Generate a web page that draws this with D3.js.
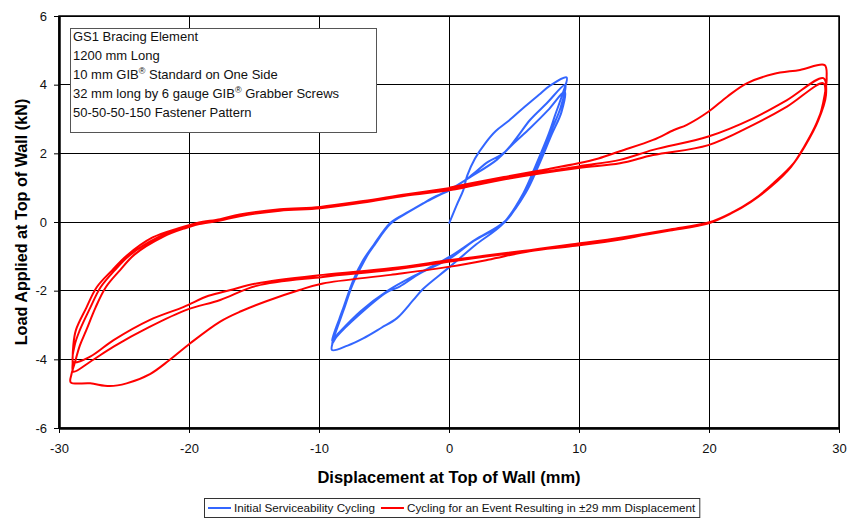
<!DOCTYPE html>
<meta charset="utf-8">
<head>
<style>
  body { margin: 0; background: #fff; }
  text { font-family: "Liberation Sans", Arial, sans-serif; }
</style>
</head>
<body>
<div id="chart"></div>
<script src="https://d3js.org/d3.v7.min.js"></script>
<script>

// axis ticks
var xTicks = [-30, -20, -10, 0, 10, 20, 30];
var yTicks = [-6, -4, -2, 0, 2, 4, 6];

// specimen description (the "®" is drawn as superscript)
var noteLines = [
  "GS1 Bracing Element",
  "1200 mm Long",
  "10 mm GIB® Standard on One Side",
  "32 mm long by 6 gauge GIB® Grabber Screws",
  "50-50-50-150 Fastener Pattern"
];

var seriesNames = ["Initial Serviceability Cycling", "Cycling for an Event Resulting in \u00b129 mm Displacement"];
var seriesColors = ["#3366ff", "#ff0000"];

// [displacement mm, load kN] - serviceability cycles (±9 mm)
var blueLoops = [
  [0, -0.05], [0.6, 0.5], [1.1, 0.93], [1.4, 1.35], [2.0, 1.85], [2.8, 2.3], [3.6, 2.65], [4.6, 2.95], [5.8, 3.35], [6.9, 3.7], [7.8, 3.98], [9.05, 4.21],
  [8.75, 3.75], [8.15, 3.1], [7.7, 2.6], [6.74, 1.71], [5.72, 0.84], [4.18, -0.04], [2.1, -0.65], [0.08, -1.3], [-2.0, -1.95], [-2.74, -2.27], [-4.0, -2.8], [-5.2, -3.08], [-6.6, -3.39], [-7.8, -3.6], [-9.0, -3.73],
  [-8.9, -3.44], [-8.5, -2.9], [-8.1, -2.47], [-7.36, -1.69], [-6.6, -1.11], [-5.8, -0.67], [-4.54, -0.04], [-3.3, 0.25], [-2.0, 0.54], [-1.0, 0.75], [0.08, 0.93], [1.6, 1.32], [3.0, 1.75], [4.18, 2.0], [5.2, 2.45], [6.23, 2.97], [7.5, 3.45], [8.95, 4.0],
  [8.6, 3.35], [7.8, 2.6], [6.8, 1.65], [5.8, 0.85], [4.3, 0.0], [1.9, -0.55], [0.08, -1.06], [-2.2, -1.49], [-3.8, -1.88], [-4.8, -2.05], [-6.85, -2.68], [-8.64, -3.34], [-9.0, -3.55],
  [-8.8, -3.3], [-8.0, -2.45], [-7.3, -1.7], [-6.5, -1.1], [-5.7, -0.65], [-4.5, -0.05], [-3.2, 0.27], [-1.9, 0.56], [0.1, 0.95], [1.6, 1.3], [3.67, 1.81], [5.0, 2.3], [6.23, 2.73], [7.6, 3.25], [8.9, 3.8],
  [8.65, 3.2], [7.9, 2.55], [6.9, 1.65], [5.9, 0.85], [4.3, 0.02], [2.0, -0.52], [0.1, -1.0], [-2.1, -1.45], [-4.7, -2.0], [-6.8, -2.6], [-8.6, -3.28], [-9.0, -3.45],
  [-8.1, -2.5], [-7.3, -1.72], [-6.5, -1.12], [-5.7, -0.62], [-4.5, -0.02], [-3.1, 0.3], [-1.8, 0.58], [0.1, 0.96]
];

// [displacement mm, load kN] - event cycles (±29 mm)
var redLoops = [
  [0.0, 1.0], [2.0, 1.15], [4.4, 1.32], [7.0, 1.5], [9.95, 1.71], [11.5, 1.85], [13.15, 2.06], [15.7, 2.39], [17.3, 2.68], [18.3, 2.83], [19.95, 3.21], [21.4, 3.65], [22.9, 4.04], [24.95, 4.31], [27.0, 4.43], [28.9, 4.57],
  [29.05, 4.2], [29.0, 3.94], [28.5, 3.07], [27.5, 2.29], [26.5, 1.71], [24.95, 1.13], [23.4, 0.64], [21.9, 0.3], [20.1, -0.02], [17.0, -0.23], [13.3, -0.5], [9.5, -0.7], [6.2, -0.85], [3.0, -1.1], [0.1, -1.3], [-4.5, -1.54], [-9.7, -1.79], [-11.5, -1.98], [-14.0, -2.3], [-16.0, -2.6], [-17.6, -2.9], [-19.9, -3.53], [-21.5, -4.02], [-23.0, -4.43], [-24.8, -4.7], [-26.1, -4.78], [-27.6, -4.7], [-29.1, -4.67],
  [-29.05, -4.45], [-28.8, -4.12], [-28.4, -3.6], [-27.9, -3.15], [-27.2, -2.5], [-26.4, -1.9], [-25.3, -1.4], [-24.2, -0.95], [-22.0, -0.43], [-20.3, -0.18], [-19.0, -0.04], [-17.6, 0.06], [-16.1, 0.2], [-13.0, 0.35], [-9.9, 0.42], [-6.6, 0.59], [-3.25, 0.79], [0.1, 0.97], [4.4, 1.28], [9.95, 1.62], [13.15, 1.81], [15.7, 2.1], [19.95, 2.49], [23.4, 3.02], [26.0, 3.55], [28.8, 4.19],
  [29.0, 3.7], [28.4, 2.95], [27.4, 2.22], [26.4, 1.65], [24.9, 1.08], [23.3, 0.62], [21.8, 0.28], [20.1, 0.0], [17.0, -0.22], [13.3, -0.45], [9.5, -0.65], [6.2, -0.82], [3.0, -0.97], [0.1, -1.11], [-4.5, -1.35], [-9.7, -1.54], [-14.8, -1.79], [-16.8, -1.98], [-18.5, -2.15], [-20.4, -2.47], [-23.0, -2.85], [-25.8, -3.44], [-27.6, -3.92], [-28.9, -4.08],
  [-28.8, -3.6], [-28.4, -3.15], [-27.6, -2.5], [-26.8, -1.9], [-25.7, -1.4], [-24.6, -0.98], [-22.4, -0.45], [-20.6, -0.2], [-19.2, -0.06], [-17.6, 0.04], [-16.1, 0.17], [-13.0, 0.33], [-9.9, 0.4], [-6.6, 0.57], [-3.25, 0.77], [0.1, 0.93], [4.4, 1.25], [9.95, 1.57], [13.15, 1.71], [15.7, 1.95], [19.95, 2.24], [23.4, 2.83], [26.0, 3.36], [28.8, 4.04],
  [28.9, 3.6], [28.3, 2.9], [27.3, 2.18], [26.3, 1.6], [24.8, 1.04], [23.2, 0.58], [21.7, 0.25], [20.0, -0.03], [17.0, -0.25], [13.3, -0.48], [9.5, -0.68], [6.2, -0.84], [3.0, -1.0], [0.1, -1.15], [-4.5, -1.4], [-9.7, -1.6], [-14.8, -1.86], [-17.6, -2.27], [-20.2, -2.56], [-23.0, -3.05], [-25.8, -3.63], [-27.6, -4.07], [-28.9, -4.36],
  [-28.95, -4.1], [-28.9, -3.6], [-28.7, -3.15], [-27.9, -2.5], [-27.1, -1.9], [-25.9, -1.4], [-24.8, -0.98], [-22.8, -0.45], [-20.8, -0.18], [-19.3, -0.02], [-17.6, 0.08], [-16.1, 0.22], [-13.0, 0.37], [-9.9, 0.44], [-6.6, 0.61], [-3.25, 0.81], [0.1, 0.99]
];

var W = 849, H = 519;
var plot = {left: 59, right: 839, top: 16, bottom: 428};

var svg = d3.select("#chart").append("svg")
    .attr("width", W)
    .attr("height", H);

svg.append("rect").attr("width", W).attr("height", H).attr("fill", "#fff");

var x = d3.scaleLinear().domain([-30, 30]).range([plot.left, plot.right]);
var y = d3.scaleLinear().domain([-6, 6]).range([plot.bottom, plot.top]);

// gridlines
var grid = svg.append("g").attr("stroke", "#000").attr("stroke-width", 1).attr("shape-rendering", "crispEdges");
grid.selectAll("line.v").data(xTicks).enter().append("line")
    .attr("x1", d => x(d)).attr("x2", d => x(d))
    .attr("y1", plot.top).attr("y2", plot.bottom);
grid.selectAll("line.h").data(yTicks).enter().append("line")
    .attr("x1", plot.left).attr("x2", plot.right)
    .attr("y1", d => y(d)).attr("y2", d => y(d));

// frame
svg.append("rect")
    .attr("x", plot.left).attr("y", plot.top)
    .attr("width", plot.right - plot.left).attr("height", plot.bottom - plot.top)
    .attr("fill", "none").attr("stroke", "#000").attr("stroke-width", 1.5);

// axes (plain hyphen for negatives, like the original)
var fmt = d => String(d);
var xAxis = svg.append("g")
    .attr("transform", "translate(0," + plot.bottom + ")")
    .call(d3.axisBottom(x).tickValues(xTicks).tickFormat(fmt).tickSize(5).tickPadding(11).tickSizeOuter(0));
var yAxis = svg.append("g")
    .attr("transform", "translate(" + plot.left + ",0)")
    .call(d3.axisLeft(y).tickValues(yTicks).tickFormat(fmt).tickSize(5).tickPadding(7).tickSizeOuter(0));

[xAxis, yAxis].forEach(function(a) {
  a.select(".domain").attr("stroke", "#000").attr("stroke-width", 2.5);
  a.selectAll(".tick line").attr("stroke", "#000");
  a.selectAll("text")
    .attr("font-family", "Liberation Sans, Arial, sans-serif")
    .attr("font-size", 13)
    .attr("fill", "#111");
});

// curves
var line = d3.line()
    .x(d => x(d[0]))
    .y(d => y(d[1]))
    .curve(d3.curveCatmullRom.alpha(0.5));

var series = [blueLoops, redLoops];
svg.selectAll("path.loop").data(series).enter().append("path")
    .attr("class", "loop")
    .attr("d", line)
    .attr("fill", "none")
    .attr("stroke", (d, i) => seriesColors[i])
    .attr("stroke-width", 2)
    .attr("stroke-linejoin", "round");

// specimen note box
var note = svg.append("g");
note.append("rect")
    .attr("x", 70.5).attr("y", 28.5).attr("width", 306).attr("height", 104)
    .attr("fill", "#fff").attr("stroke", "#555").attr("stroke-width", 1);
noteLines.forEach(function(s, i) {
  var t = note.append("text")
      .attr("x", 73).attr("y", 41 + i * 19)
      .attr("font-size", 13).attr("fill", "#111");
  s.split("®").forEach(function(part, j) {
    if (j > 0) {
      t.append("tspan").attr("font-size", 9).attr("dy", -5).text("®");
      t.append("tspan").attr("dy", 5).text(part);
    } else {
      t.append("tspan").text(part);
    }
  });
});

// axis titles
svg.append("text")
    .attr("x", x(0)).attr("y", 483)
    .attr("text-anchor", "middle")
    .attr("font-size", 16.5).attr("font-weight", "bold")
    .text("Displacement at Top of Wall (mm)");

svg.append("text")
    .attr("transform", "translate(27," + y(0) + ") rotate(-90)")
    .attr("text-anchor", "middle")
    .attr("font-size", 16.2).attr("font-weight", "bold")
    .text("Load Applied at Top of Wall (kN)");

// legend
var legend = svg.append("g");
var legendBox = legend.append("rect")
    .attr("y", 498.5).attr("height", 19)
    .attr("fill", "#fff").attr("stroke", "#333").attr("stroke-width", 1);
var lx = 208;
seriesNames.forEach(function(name, i) {
  legend.append("line")
      .attr("x1", lx).attr("x2", lx + 23)
      .attr("y1", 508).attr("y2", 508)
      .attr("stroke", seriesColors[i]).attr("stroke-width", 2);
  var t = legend.append("text")
      .attr("x", lx + 26).attr("y", 512)
      .attr("font-size", 11.7).attr("fill", "#111")
      .text(name);
  lx += 26 + t.node().getComputedTextLength() + 6;
});
legendBox.attr("x", 204.5).attr("width", lx - 204 - 2);

</script>
</body>
